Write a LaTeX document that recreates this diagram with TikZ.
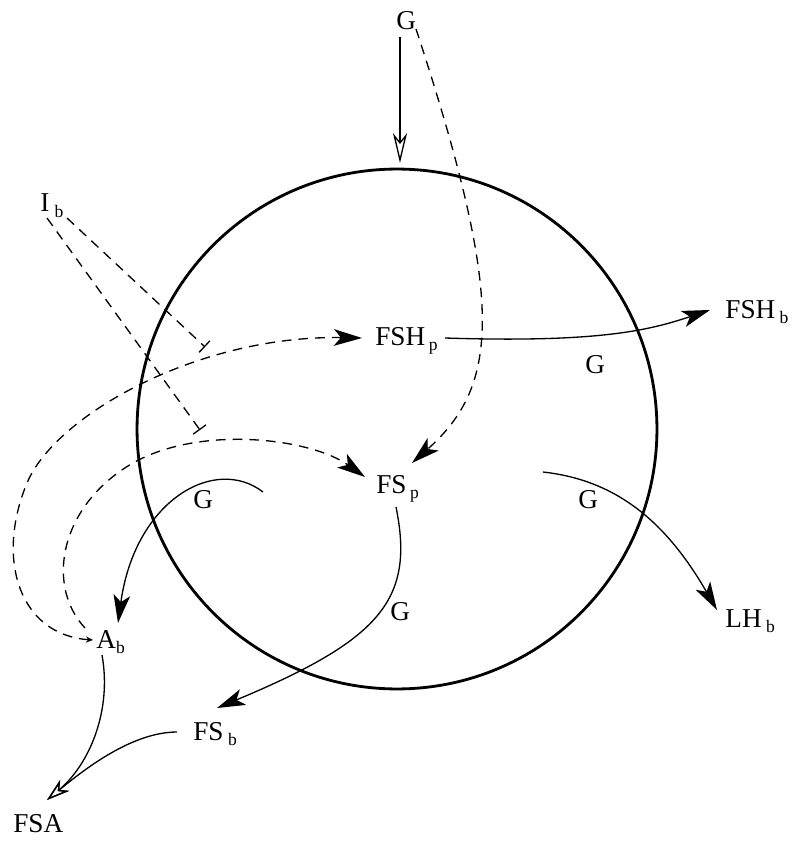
\documentclass[tikz,border=0pt]{standalone}
\usepackage{fontspec}
\setmainfont{Liberation Serif}
\usepackage{tikz}
\usetikzlibrary{arrows.meta,positioning,calc}
\newcommand{\sbs}[1]{\raisebox{-3pt}{\fontsize{10}{12}\selectfont #1}}

\begin{document}
\begin{tikzpicture}[x=0.02cm, y=-0.02cm,
  lbl/.style={inner sep=0pt, anchor=base west, font=\fontsize{15.5}{18}\selectfont},
  conn/.style={line width=0.75pt},
  dsh/.style={conn, dash pattern=on 5.5pt off 4pt},
  stim/.style={-{Stealth[length=16pt, width=9.5pt, inset=4pt]}},
  hollow/.style={-{Stealth[open, length=17pt, width=8pt, inset=5pt]}},
  block/.style={-{Bar[width=9pt]}}]
\useasboundingbox (0,0) rectangle (800,841);

% Cell
\draw[line width=1.6pt] (397,429) circle[radius=5.2cm];

% Nodes
\node[lbl] (Gtop) at (396,30) {G};
\node[lbl] (Ib) at (40,212) {I\kern3pt\sbs{b}};
\node[lbl] (FSHp) at (375,345) {FSH\kern2pt\sbs{p}};
\node[lbl] (FSHb) at (725,318) {FSH\kern2.5pt\sbs{b}};
\node[lbl] (FSp) at (376,493) {FS\kern2pt\sbs{p}};
\node[lbl] (LHb) at (725,627) {LH\kern2.5pt\sbs{b}};
\node[lbl] (Ab) at (96,648) {A\sbs{b}};
\node[lbl] (FSb) at (193,740) {FS\kern2.5pt\sbs{b}};
\node[lbl] (FSA) at (13,832) {FSA};

% G labels
\node[lbl] (g1) at (585,373) {G};
\node[lbl] (g2) at (193,508) {G};
\node[lbl] (g3) at (390,620) {G};
\node[lbl] (g4) at (578,508) {G};

% Free ends
\coordinate (top) at (400,163);
\coordinate (barU) at (205,347);
\coordinate (barL) at (200,430);
\coordinate (srcA) at (263,492);
\coordinate (srcL) at (543,472);

% Connections
\draw[conn, hollow] ([shift={(4,7)}]Gtop.base west) -- (top);
\draw[dsh, stim] ([shift={(20,-1)}]Gtop.base west)
  .. controls (505,300) and (500,385) .. ([shift={(36,-30)}]FSp.base west);
\draw[dsh, block] ([shift={(7,6)}]Ib.base west) -- (barL);
\draw[dsh, block] ([shift={(27,6)}]Ib.base west) -- (barU);
\draw[conn, stim] ([shift={(70,-7)}]FSHp.base west)
  .. controls (600,343) and (650,330) .. ([shift={(-15,-8)}]FSHb.base west);
\draw[dsh, {Stealth[length=4pt, width=3.5pt]}-{Stealth[length=16pt, width=9.5pt, inset=4pt]}]
  ([shift={(-3,-8)}]Ab.base west) .. controls (20,635) and (-5,560) .. (27,483)
  .. controls (56,414) and (200,335) .. ([shift={(-13,-7)}]FSHp.base west);
\draw[dsh, stim] ([shift={(-11,-20)}]Ab.base west) .. controls (45,585) and (60,505) .. (133,463)
  .. controls (200,425) and (310,438) .. ([shift={(-11,-16)}]FSp.base west);
\draw[conn, stim] (srcA) .. controls (215,455) and (135,500) .. ([shift={(22,-25)}]Ab.base west);
\draw[conn, stim] ([shift={(20,14)}]FSp.base west)
  .. controls (415,600) and (380,640) .. ([shift={(24,-32)}]FSb.base west);
\draw[conn, stim] (srcL) .. controls (615,480) and (665,520) .. ([shift={(-8,-17)}]LHb.base west);
\draw[conn, -{Stealth[open, length=13pt, width=8pt, inset=4pt]}] ([shift={(6,7)}]Ab.base west)
  .. controls (112,710) and (90,764) .. ([shift={(34,-32)}]FSA.base west);
\draw[conn, -{Stealth[open, length=13pt, width=8pt, inset=4pt]}] ([shift={(-16,-8)}]FSb.base west)
  .. controls (130,732) and (80,773) .. ([shift={(34,-32)}]FSA.base west);
\end{tikzpicture}
\end{document}
